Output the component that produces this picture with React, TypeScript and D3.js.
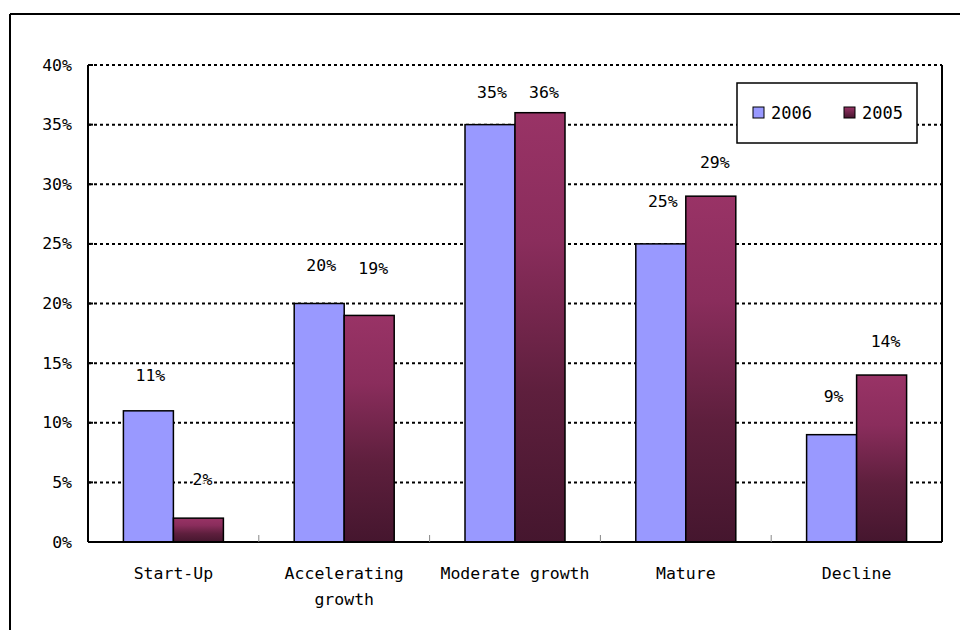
import React from "react";
import * as d3 from "d3";

const categories: string[][] = [
  ["Start-Up"],
  ["Accelerating", "growth"],
  ["Moderate growth"],
  ["Mature"],
  ["Decline"],
];
const seriesNames = ["2006", "2005"];
const values2006 = [11, 20, 35, 25, 9];
const values2005 = [2, 19, 36, 29, 14];
const yTicks = [0, 5, 10, 15, 20, 25, 30, 35, 40];

// label layout nudges (px above bar top), per series
const labelRaise2006 = [35, 38, 32, 42, 38];
const labelRaise2005 = [39, 47, 20, 34, 34];

const W = 960;
const H = 630;
const M = { left: 88, top: 65, right: 942, bottom: 542 };
const FONT = "'DejaVu Sans Mono', 'Liberation Mono', monospace";
const FS = 16.5;

export default function App() {
  const x = d3
    .scaleBand<number>()
    .domain(d3.range(categories.length))
    .range([M.left, M.right]);
  const y = d3.scaleLinear().domain([0, 40]).range([M.bottom, M.top]);
  const barW = 50;
  const series = [values2006, values2005];
  const raises = [labelRaise2006, labelRaise2005];
  const fills = ["#9999FF", "url(#grad2005)"];

  return (
    <svg
      width={W}
      height={H}
      style={{ position: "absolute", left: 0, top: 0, background: "#fff" }}
    >
      <defs>
        <linearGradient id="grad2005" x1="0" y1="0" x2="0" y2="1">
          <stop offset="0" stopColor="#993366" />
          <stop offset="0.3" stopColor="#8a2d5c" />
          <stop offset="0.65" stopColor="#5e1f3d" />
          <stop offset="1" stopColor="#45162e" />
        </linearGradient>
        <linearGradient id="gradLegend" x1="0" y1="0" x2="0" y2="1">
          <stop offset="0" stopColor="#993366" />
          <stop offset="1" stopColor="#45162e" />
        </linearGradient>
      </defs>
      <rect x={0} y={0} width={W} height={H} fill="#fff" />
      {/* outer chart border */}
      <line x1={10} y1={14} x2={W} y2={14} stroke="#000" strokeWidth={2} />
      <line x1={10} y1={14} x2={10} y2={H} stroke="#000" strokeWidth={2} />

      {/* gridlines */}
      {yTicks.slice(1).map((t) => (
        <line
          key={"g" + t}
          x1={M.left}
          x2={M.right}
          y1={y(t)}
          y2={y(t)}
          stroke="#000"
          strokeWidth={2}
          strokeDasharray="3,3"
        />
      ))}

      {/* bars */}
      {categories.map((_, i) =>
        series.map((vals, s) => {
          const cx = (x(i) as number) + x.bandwidth() / 2;
          const bx = cx - barW + s * barW;
          return (
            <rect
              key={`b${i}-${s}`}
              x={bx}
              y={y(vals[i])}
              width={barW}
              height={M.bottom - y(vals[i])}
              fill={fills[s]}
              stroke="#000"
              strokeWidth={1.5}
            />
          );
        })
      )}

      {/* axes */}
      <line x1={M.left} x2={M.left} y1={M.top} y2={M.bottom} stroke="#000" strokeWidth={2} />
      <line x1={M.right} x2={M.right} y1={M.top} y2={M.bottom} stroke="#000" strokeWidth={2} />
      <line x1={M.left} x2={M.right} y1={M.bottom} y2={M.bottom} stroke="#000" strokeWidth={2} />
      {yTicks.map((t) => (
        <line key={"yt" + t} x1={M.left} x2={M.left + 5} y1={y(t)} y2={y(t)} stroke="#000" strokeWidth={2} />
      ))}
      {d3.range(1, categories.length).map((i) => (
        <line
          key={"xt" + i}
          x1={x(i) as number}
          x2={x(i) as number}
          y1={M.bottom}
          y2={M.bottom - 7}
          stroke="#888"
          strokeWidth={1}
        />
      ))}

      {/* y tick labels */}
      {yTicks.map((t) => (
        <text
          key={"yl" + t}
          x={72}
          y={y(t)}
          textAnchor="end"
          dominantBaseline="central"
          fontFamily={FONT}
          fontSize={FS}
          fill="#000"
        >
          {t + "%"}
        </text>
      ))}

      {/* category labels */}
      {categories.map((lines, i) => {
        const cx = (x(i) as number) + x.bandwidth() / 2;
        return (
          <text key={"c" + i} textAnchor="middle" fontFamily={FONT} fontSize={FS} fill="#000">
            {lines.map((ln, j) => (
              <tspan key={j} x={cx} y={579 + j * 26}>
                {ln}
              </tspan>
            ))}
          </text>
        );
      })}

      {/* data labels */}
      {categories.map((_, i) =>
        series.map((vals, s) => {
          const cx = (x(i) as number) + x.bandwidth() / 2;
          const lx = cx - barW / 2 + s * barW + (s === 0 ? 2 : 4);
          return (
            <text
              key={`l${i}-${s}`}
              x={lx}
              y={y(vals[i]) - raises[s][i]}
              textAnchor="middle"
              dominantBaseline="central"
              fontFamily={FONT}
              fontSize={FS}
              fill="#000"
              style={{ paintOrder: "stroke" }}
              stroke="#fff"
              strokeWidth={3}
            >
              {vals[i] + "%"}
            </text>
          );
        })
      )}

      {/* legend */}
      <rect x={737} y={83} width={180} height={60} fill="#fff" stroke="#000" strokeWidth={1.5} />
      {seriesNames.map((name, s) => (
        <g key={"lg" + s} transform={`translate(${753 + s * 91},0)`}>
          <rect
            x={0}
            y={107}
            width={11}
            height={11}
            fill={s === 0 ? "#9999FF" : "url(#gradLegend)"}
            stroke="#000"
            strokeWidth={1}
          />
          <text
            x={18}
            y={113}
            dominantBaseline="central"
            fontFamily={FONT}
            fontSize={17}
            fill="#000"
          >
            {name}
          </text>
        </g>
      ))}
    </svg>
  );
}
